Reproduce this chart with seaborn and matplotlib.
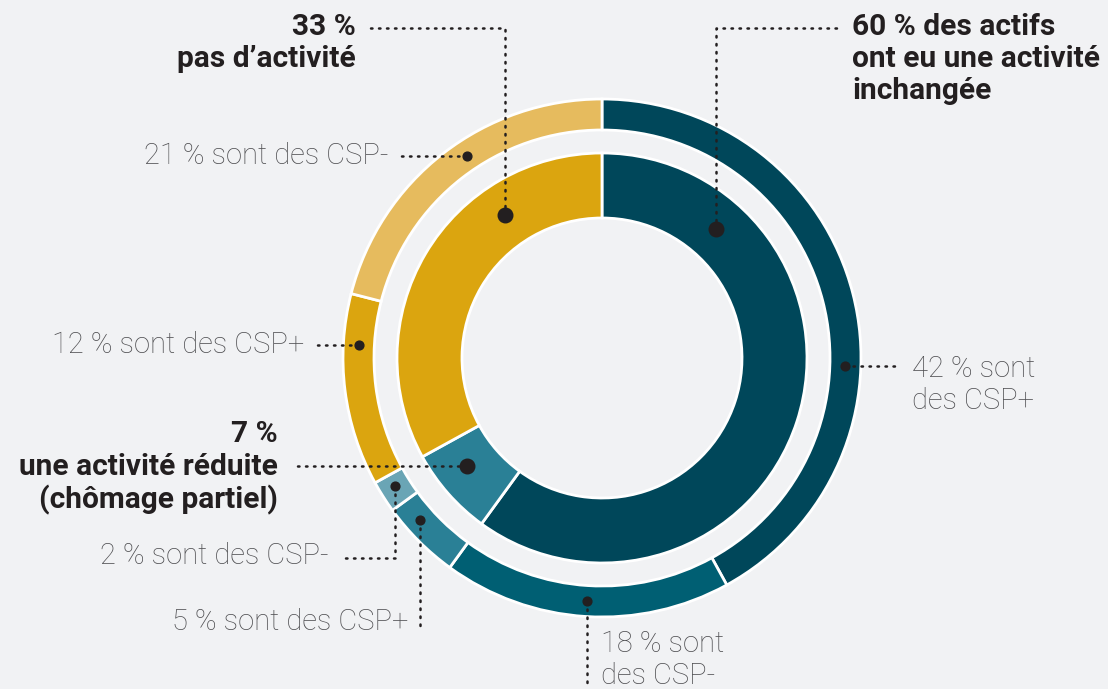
import numpy as np
import matplotlib.pyplot as plt
import seaborn as sns

# ── Data ──────────────────────────────────────────────────────────────────────
inner_labels = ["activité inchangée", "activité réduite", "pas d'activité"]
inner_values = [60, 7, 33]
inner_colors = ["#00475a", "#2a8096", "#dba50f"]

outer_labels = ["42 % sont\ndes CSP+", "18 % sont\ndes CSP-", "5 % sont des CSP+",
                "2 % sont des CSP-", "12 % sont des CSP+", "21 % sont des CSP-"]
outer_values = [42, 18, 5, 2, 12, 21]
outer_colors = ["#00475a", "#005f73", "#2a8096", "#6aa5b5", "#dba50f", "#e6bb5e"]

inner_texts = ["60 % des actifs\nont eu une activité\ninchangée",
               "7 %\nune activité réduite\n(chômage partiel)",
               "33 %\npas d\u2019activité"]

# ── Config ────────────────────────────────────────────────────────────────────
sns.set_theme(style="white")
BG = "#f1f2f4"
INK = "#231f20"
GREY = "#4f4f52"
plt.rcParams["font.family"] = ["Roboto", "DejaVu Sans"]

W, H = 1108, 689
fig = plt.figure(figsize=(W / 100, H / 100), dpi=100, facecolor=BG)
ax = fig.add_axes([0, 0, 1, 1])
ax.set_facecolor(BG)

cx, cy = 602, H - 358
R_OUT, W_OUT = 259, 31
R_IN, W_IN = 205, 65

ax.pie(outer_values, colors=outer_colors, radius=R_OUT, center=(cx, cy),
       startangle=90, counterclock=False, frame=True,
       wedgeprops=dict(width=W_OUT, edgecolor="white", linewidth=2))
ax.pie(inner_values, colors=inner_colors, radius=R_IN, center=(cx, cy),
       startangle=90, counterclock=False, frame=True,
       wedgeprops=dict(width=W_IN, edgecolor="white", linewidth=2))
ax.set_xlim(0, W)
ax.set_ylim(0, H)
ax.set_aspect("equal")
ax.axis("off")


def ring_point(angle, r):
    # angle clockwise from 12 o'clock, in degrees
    a = np.deg2rad(angle)
    return cx + r * np.sin(a), cy + r * np.cos(a)


def leader(pts, big=False):
    xs, ys = zip(*pts)
    ax.plot(xs, ys, color=INK, lw=1.8, ls=(0, (0.6, 2.6)),
            dash_capstyle="round", solid_capstyle="round", zorder=5)
    ax.scatter([xs[0]], [ys[0]], s=110 if big else 40, color=INK, zorder=6)


r_in_mid = R_IN - W_IN / 2
r_out_mid = R_OUT - W_OUT / 2

# ── Inner ring callouts (bold) ───────────────────────────────────────────────
bold = dict(fontsize=21.5, fontweight="bold", color=INK, linespacing=1.2)

x0, y0 = ring_point(41.5, r_in_mid)
leader([(x0, y0), (x0, H - 28), (842, H - 28)], big=True)
ax.text(852, H - 59, inner_texts[0], ha="left", va="center", **bold)

x0, y0 = ring_point(231.3, r_in_mid)
leader([(x0, y0), (295, y0)], big=True)
ax.text(278, y0 - 2, inner_texts[1], ha="right", va="center", **bold)

x0, y0 = ring_point(325.7, r_in_mid)
leader([(x0, y0), (x0, H - 28), (366, H - 28)], big=True)
ax.text(356, H - 43, inner_texts[2], ha="right", va="center", **bold)

# ── Outer ring callouts (light) ──────────────────────────────────────────────
lab = dict(fontsize=21, fontweight="light", color=GREY, linespacing=1.22)

x0, y0 = ring_point(91.9, r_out_mid)
leader([(x0, y0), (900, y0)])
ax.text(912, y0 - 19, outer_labels[0], ha="left", va="center", **lab)

x0, y0 = ring_point(183.5, r_out_mid)
leader([(x0, y0), (x0, 0)])
ax.text(x0 + 14, H - 660, outer_labels[1], ha="left", va="center", **lab)

x0, y0 = ring_point(228.3, r_out_mid)
leader([(x0, y0), (x0, H - 632)])
ax.text(x0 - 12, H - 622, outer_labels[2], ha="right", va="center", **lab)

x0, y0 = ring_point(238.4, r_out_mid)
leader([(x0, y0), (x0, H - 558), (340, H - 558)])
ax.text(329, H - 556, outer_labels[3], ha="right", va="center", **lab)

x0, y0 = ring_point(273, r_out_mid)
leader([(x0, y0), (312, y0)])
ax.text(304, y0, outer_labels[4], ha="right", va="center", **lab)

x0, y0 = ring_point(326.2, r_out_mid)
leader([(x0, y0), (397, y0)])
ax.text(388, y0, outer_labels[5], ha="right", va="center", **lab)

fig.savefig("out.png", dpi=100, facecolor=BG)
